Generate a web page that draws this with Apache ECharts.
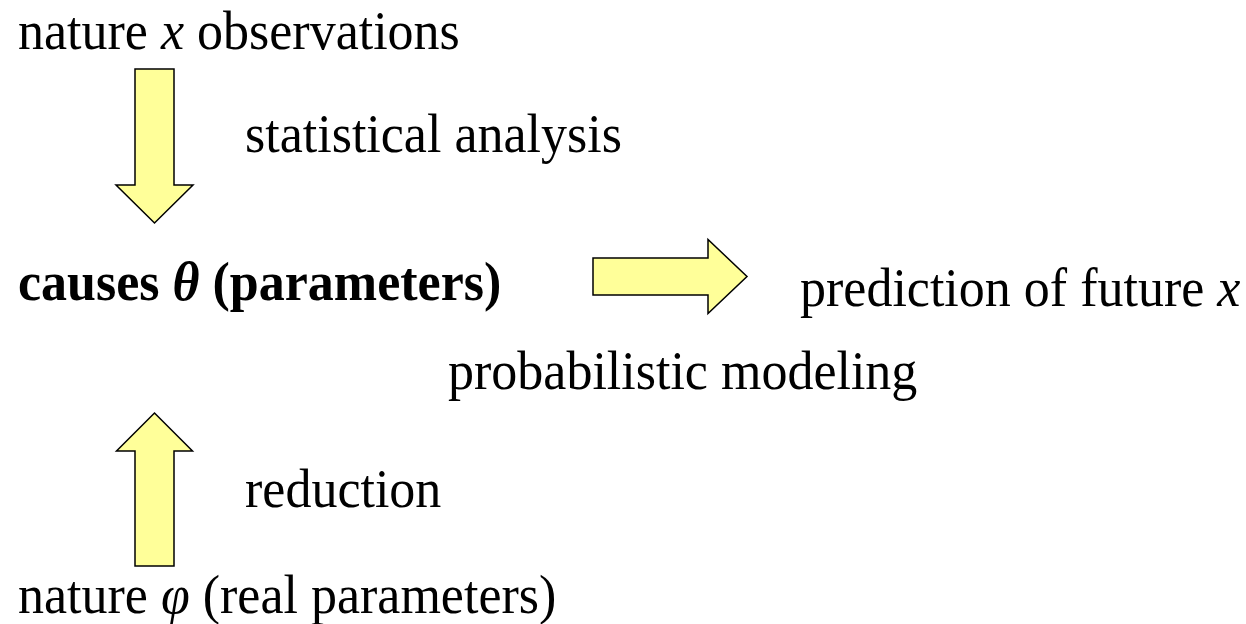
<!DOCTYPE html>
<html>
<head>
<meta charset="utf-8">
<script src="https://cdn.jsdelivr.net/npm/echarts@6/dist/echarts.min.js"></script>
<style>html,body{margin:0;padding:0;background:#fff;}#c{width:1246px;height:624px;}</style>
</head>
<body>
<div id="c"></div>
<script>
// Text labels (rich-text markup for italic / bold parts)
var labelTexts = [
  'nature {i|x} observations',
  'statistical analysis',
  '{b|causes }{bi|\u03b8}{b| (parameters)}',
  'prediction of future {i|x}',
  'probabilistic modeling',
  'reduction',
  'nature {i|\u03c6} (real parameters)'
];
// left x and text baseline y of each label
var labelX = [18, 245, 18, 800, 448, 245, 18];
var labelY = [48, 151, 299, 305, 388, 506, 612];

// Block arrows: tail point, tip point, shaft half-width, head half-width, head length
var arrowName = ['statistical analysis', 'probabilistic modeling', 'reduction'];
var arrowFromX = [154.5, 593, 154.5];
var arrowFromY = [69, 276.5, 566];
var arrowToX = [154.5, 747, 154.5];
var arrowToY = [223, 276.5, 413];
var arrowShaftHalf = [19.5, 18.5, 19.5];
var arrowHeadHalf = [38.5, 37, 38];
var arrowHeadLen = [38, 39, 38];

var chart = echarts.init(document.getElementById('c'), null, {renderer: 'canvas'});

var arrowData = arrowName.map(function (d, i) {
  return [arrowFromX[i], arrowFromY[i], arrowToX[i], arrowToY[i], arrowShaftHalf[i], arrowHeadHalf[i], arrowHeadLen[i]];
});
var labelData = labelTexts.map(function (t, i) { return [labelX[i], labelY[i], i]; });

var FONT = '"Liberation Serif", "Times New Roman", serif';
var FS = 52;
var BASE_OFF = 0.19 * FS + 3.7;

chart.setOption({
  animation: false,
  grid: {left: 0, right: 0, top: 0, bottom: 0},
  xAxis: {type: 'value', min: 0, max: 1246, show: false},
  yAxis: {type: 'value', min: 0, max: 624, inverse: true, show: false},
  series: [
    {
      type: 'custom',
      data: arrowData,
      renderItem: function (params, api) {
        var a = api.coord([api.value(0), api.value(1)]);
        var b = api.coord([api.value(2), api.value(3)]);
        var sh = api.value(4), hh = api.value(5), hl = api.value(6);
        var dx = b[0] - a[0], dy = b[1] - a[1];
        var L = Math.sqrt(dx * dx + dy * dy);
        var ux = dx / L, uy = dy / L;
        var px = -uy, py = ux;
        var hx = b[0] - ux * hl, hy = b[1] - uy * hl;
        var pts = [
          [a[0] + px * sh, a[1] + py * sh],
          [hx + px * sh, hy + py * sh],
          [hx + px * hh, hy + py * hh],
          [b[0], b[1]],
          [hx - px * hh, hy - py * hh],
          [hx - px * sh, hy - py * sh],
          [a[0] - px * sh, a[1] - py * sh]
        ];
        return {
          type: 'polygon',
          shape: {points: pts},
          style: {fill: '#FFFF99', stroke: '#000', lineWidth: 1.5, lineJoin: 'miter'}
        };
      },
      silent: true
    },
    {
      type: 'custom',
      data: labelData,
      renderItem: function (params, api) {
        var p = api.coord([api.value(0), api.value(1)]);
        var idx = api.value(2);
        return {
          type: 'text',
          x: p[0], y: p[1],
          scaleY: 1.07,
          style: {
            text: labelTexts[idx],
            x: 0, y: BASE_OFF,
            fill: '#000',
            fontFamily: FONT,
            fontSize: FS,
            verticalAlign: 'bottom',
            align: 'left',
            rich: {
              i: {fontFamily: FONT, fontSize: FS, fontStyle: 'italic', fill: '#000'},
              b: {fontFamily: FONT, fontSize: FS, fontWeight: 'bold', fill: '#000'},
              bi: {fontFamily: FONT, fontSize: FS, fontWeight: 'bold', fontStyle: 'italic', fill: '#000'}
            }
          }
        };
      },
      silent: true
    }
  ]
});
</script>
</body>
</html>
